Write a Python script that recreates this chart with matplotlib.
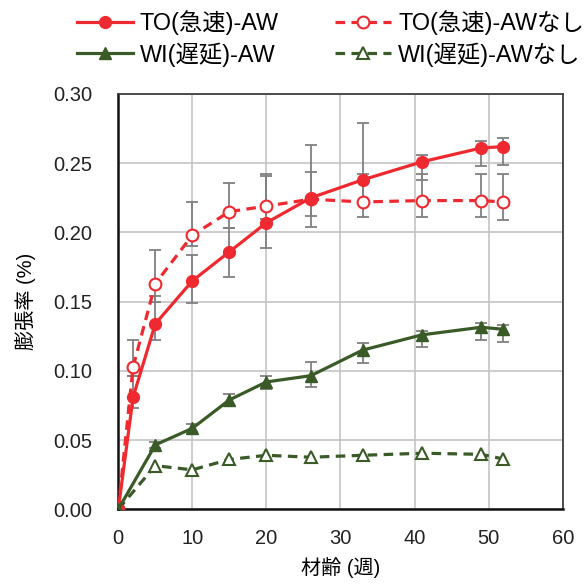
import numpy as np
import matplotlib
matplotlib.use("Agg")
import matplotlib.pyplot as plt

plt.rcParams['font.family'] = ['Liberation Sans', 'Noto Sans CJK JP', 'DejaVu Sans']

# data
to_weeks = [0, 2, 5, 10, 15, 20, 26, 33, 41, 49, 52]
to_aw = [0.0, 0.081, 0.134, 0.165, 0.186, 0.207, 0.225, 0.238, 0.251, 0.261, 0.262]
to_aw_lo = [0, 0.008, 0.012, 0.016, 0.018, 0.018, 0.021, 0.015, 0.013, 0.013, 0.013]
to_aw_hi = [0, 0.015, 0.020, 0.019, 0.017, 0.034, 0.038, 0.041, 0.005, 0.005, 0.006]
to_awn = [0.0, 0.103, 0.163, 0.198, 0.215, 0.219, 0.224, 0.222, 0.223, 0.223, 0.222]
to_awn_lo = [0, 0.007, 0.013, 0.008, 0.012, 0.009, 0.012, 0.011, 0.012, 0.012, 0.013]
to_awn_hi = [0, 0.019, 0.024, 0.024, 0.021, 0.023, 0.020, 0.020, 0.019, 0.019, 0.020]

wi_weeks = [0, 5, 10, 15, 20, 26, 33, 41, 49, 52]
wi_aw = [0.0, 0.0465, 0.0585, 0.079, 0.092, 0.0965, 0.115, 0.126, 0.1315, 0.130]
wi_aw_lo = [0, 0.002, 0.003, 0.004, 0.005, 0.008, 0.009, 0.009, 0.009, 0.009]
wi_aw_hi = [0, 0.002, 0.003, 0.004, 0.004, 0.010, 0.005, 0.003, 0.003, 0.003]
wi_awn = [0.0, 0.0315, 0.0285, 0.036, 0.039, 0.0376, 0.039, 0.0405, 0.0397, 0.0363]

labels = ['TO(急速)-AW', 'TO(急速)-AWなし', 'WI(遅延)-AW', 'WI(遅延)-AWなし']
red = '#EE2A30'
green = '#3A5A28'
ecol = '#808080'

fig = plt.figure(figsize=(5.87, 5.87), dpi=100)
ax = fig.add_axes([0.2015, 0.1324, 0.7571, 0.7075])

ebkw = dict(fmt='none', ecolor=ecol, elinewidth=1.3, capsize=4.5, capthick=1.3, zorder=2)
ax.errorbar(to_weeks, to_aw, yerr=[to_aw_lo, to_aw_hi], **ebkw)
ax.errorbar(to_weeks, to_awn, yerr=[to_awn_lo, to_awn_hi], **ebkw)
ax.errorbar(wi_weeks, wi_aw, yerr=[wi_aw_lo, wi_aw_hi], **ebkw)

l1, = ax.plot(to_weeks, to_aw, '-', color=red, lw=2.3, marker='o', ms=8.5,
              mfc=red, mec=red, label=labels[0], zorder=4)
l2, = ax.plot(to_weeks, to_awn, '--', color=red, lw=2.3, marker='o', ms=8.5,
              mfc='white', mec=red, mew=1.5, label=labels[1], dashes=(3, 2), zorder=3)
l3, = ax.plot(wi_weeks, wi_aw, '-', color=green, lw=2.3, marker='^', ms=8.5,
              mfc=green, mec=green, label=labels[2], zorder=4)
l4, = ax.plot(wi_weeks, wi_awn, '--', color=green, lw=2.3, marker='^', ms=8.5,
              mfc='white', mec=green, mew=1.5, label=labels[3], dashes=(3, 2), zorder=3)

ax.set_xlim(0, 60)
ax.set_ylim(0, 0.30)
ax.set_xticks(np.arange(0, 61, 10))
ax.set_yticks(np.arange(0, 0.301, 0.05))
ax.set_yticklabels([f'{v:.2f}' for v in np.arange(0, 0.301, 0.05)])
ax.tick_params(length=0, labelsize=14.5, colors='#222222')
ax.tick_params(axis='x', pad=14)
ax.tick_params(axis='y', pad=19)
ax.grid(True, color='#c0c0c0', lw=1.1)
ax.set_axisbelow(True)
for s in ['left', 'bottom']:
    ax.spines[s].set_color('#111111')
    ax.spines[s].set_linewidth(1.8)
for s in ['top', 'right']:
    ax.spines[s].set_color('#404040')
    ax.spines[s].set_linewidth(1.3)

ax.set_xlabel('材齢 (週)', fontsize=14.5, labelpad=7)
ax.set_ylabel('膨張率 (%)', fontsize=14.5, labelpad=12)

# column-first fill, so order handles to read row by row
fig.legend([l1, l3, l2, l4], [labels[0], labels[2], labels[1], labels[3]],
           loc='upper center', bbox_to_anchor=(0.563, 1.018), ncol=2, frameon=False,
           fontsize=16.8, handlelength=2.4, handletextpad=0.3, columnspacing=2.4,
           labelspacing=0.3)

fig.savefig('out.png', dpi=100)
plt.close(fig)
